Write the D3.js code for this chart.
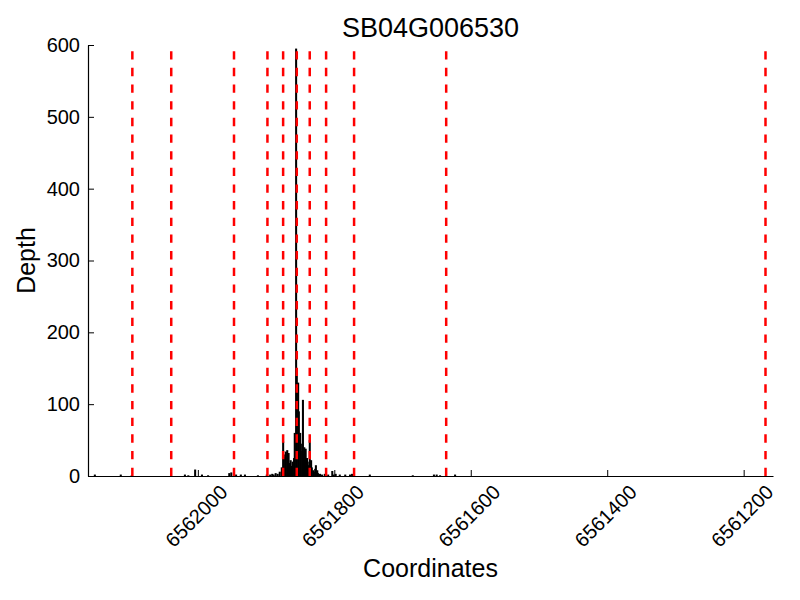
<!DOCTYPE html>
<html>
<head>
<meta charset="utf-8">
<script src="https://cdn.jsdelivr.net/npm/d3@7"></script>
<style>
  body { margin: 0; background: #fff; }
  svg text { font-family: "Liberation Sans", Arial, sans-serif; fill: #000; }
</style>
</head>
<body>
<svg id="viz" width="800" height="600"></svg>
<script>

var width = 800, height = 600
var margin = {left: 88, right: 27, top: 45, bottom: 124}

var geneName = 'SB04G006530'

// region shown on the x axis (reversed, gene on minus strand)
var xStart = 6562161, xEnd = 6561157
var xTicks = [6562000, 6561800, 6561600, 6561400, 6561200]
var yTicks = [0, 100, 200, 300, 400, 500, 600]

// exon / feature boundaries (red dashed lines)
var boundaries = [6562096, 6562039, 6561947, 6561898, 6561875, 6561855, 6561836, 6561812, 6561771, 6561636, 6561168]

// read depth per position
var covPos = [
  6562151, 6562113, 6562097, 6562019, 6562014, 6562004, 6561994, 6561985,
  6561954, 6561951, 6561947, 6561944, 6561937, 6561931, 6561912, 6561899,
  6561894, 6561891, 6561889, 6561886, 6561883, 6561880, 6561877, 6561875,
  6561874, 6561872, 6561871, 6561869, 6561868, 6561867, 6561865, 6561864,
  6561862, 6561861, 6561859, 6561858, 6561856, 6561855, 6561853, 6561852,
  6561850, 6561849, 6561847, 6561846, 6561844, 6561843, 6561842, 6561840,
  6561839, 6561837, 6561836, 6561834, 6561833, 6561831, 6561830, 6561828,
  6561827, 6561825, 6561824, 6561821, 6561818, 6561814, 6561809, 6561803,
  6561801, 6561798, 6561792, 6561784, 6561777, 6561774, 6561748, 6561685,
  6561654, 6561650, 6561645, 6561623
]
var covDepth = [
  2, 2, 1, 2, 1, 9, 2, 1,
  4, 5, 3, 2, 2, 2, 1, 2,
  2, 3, 2, 4, 3, 6, 12, 48,
  30, 26, 34, 36, 28, 32, 18, 22,
  14, 20, 25, 60, 595, 140, 130, 90,
  60, 45, 35, 106, 40, 30, 38, 25,
  20, 15, 50, 22, 12, 8, 6, 10,
  15, 8, 4, 3, 2, 3, 2, 7,
  2, 3, 2, 2, 2, 3, 2, 1,
  2, 2, 1, 2
]

var svg = d3.select('svg#viz')

var x = d3.scaleLinear()
  .domain([xStart, xEnd])
  .range([margin.left, width - margin.right])

var y = d3.scaleLinear()
  .domain([0, 600])
  .range([height - margin.bottom, margin.top])

var y0 = y(0)

// coverage bars
var cov = covPos.map(function(p, i) { return {pos: p, depth: covDepth[i]} })

svg.append('g')
  .selectAll('rect')
  .data(cov)
  .enter()
  .append('rect')
  .attr('x', function(d) { return x(d.pos) - 1 })
  .attr('width', function(d) { return Math.max(2, x(d.pos - 3) - x(d.pos)) })
  .attr('y', function(d) { return y(d.depth) })
  .attr('height', function(d) { return y0 - y(d.depth) })
  .attr('fill', '#000')

// red dashed boundaries, drawn bottom to top like matplotlib
svg.append('g')
  .selectAll('line')
  .data(boundaries)
  .enter()
  .append('line')
  .attr('x1', function(d) { return x(d) })
  .attr('x2', function(d) { return x(d) })
  .attr('y1', y0)
  .attr('y2', margin.top)
  .attr('stroke', '#ff0000')
  .attr('stroke-width', 2.5)
  .attr('stroke-dasharray', '8.33,8.33')

// axes
var xAxis = d3.axisBottom(x).tickValues(xTicks).tickFormat(d3.format('d'))
  .tickSizeInner(-6).tickSizeOuter(0).tickPadding(8)
var yAxis = d3.axisLeft(y).tickValues(yTicks)
  .tickSizeInner(-6).tickSizeOuter(0).tickPadding(8)

var gx = svg.append('g')
  .attr('transform', 'translate(0,' + y0 + ')')
  .call(xAxis)

gx.select('.domain').attr('stroke', '#000').attr('stroke-width', 1.2)
gx.selectAll('.tick line').attr('stroke', '#000')
gx.selectAll('.tick text')
  .style('font-size', '20px')
  .attr('text-anchor', 'middle')
  .attr('dominant-baseline', 'central')
  .attr('y', 0)
  .attr('dy', 0)
  .attr('transform', 'translate(-2,40) rotate(-45)')

var gy = svg.append('g')
  .attr('transform', 'translate(' + margin.left + ',0)')
  .call(yAxis)

gy.select('.domain').attr('stroke', '#000').attr('stroke-width', 1.2)
gy.selectAll('.tick line').attr('stroke', '#000')
gy.selectAll('.tick text').style('font-size', '20px')

// title and labels
var cx = (margin.left + width - margin.right) / 2

svg.append('text')
  .attr('x', cx)
  .attr('y', 37)
  .attr('text-anchor', 'middle')
  .style('font-size', '27px')
  .text(geneName)

svg.append('text')
  .attr('x', cx)
  .attr('y', 577)
  .attr('text-anchor', 'middle')
  .style('font-size', '25px')
  .text('Coordinates')

svg.append('text')
  .attr('transform', 'translate(35,' + (margin.top + y0) / 2 + ') rotate(-90)')
  .attr('text-anchor', 'middle')
  .style('font-size', '25px')
  .text('Depth')

</script>
</body>
</html>
